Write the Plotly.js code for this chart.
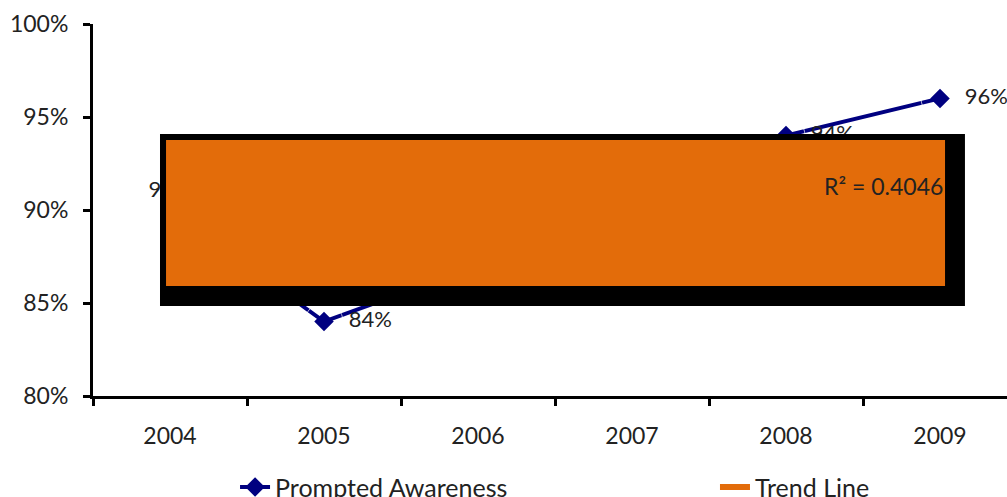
<!DOCTYPE html>
<html>
<head>
<meta charset="utf-8">
<script src="https://cdn.plot.ly/plotly-3.0.1.min.js"></script>
<style>html,body{margin:0;padding:0;background:#fff;}#chart{width:1007px;height:497px;}</style>
</head>
<body>
<div id="chart"></div>
<script>
const years = ['2004', '2005', '2006', '2007', '2008', '2009'];
const awareness = [0.90, 0.84, 0.87, 0.86, 0.94, 0.96];
const labelPositions = ['top center', 'middle right', 'middle right', 'middle right', 'middle right', 'middle right'];
const rSquaredText = 'R² = 0.4046';

// linear trend fitted to the awareness series
const n = awareness.length;
const xs = awareness.map((_, i) => i);
const mx = xs.reduce((a, b) => a + b, 0) / n;
const my = awareness.reduce((a, b) => a + b, 0) / n;
let sxy = 0, sxx = 0;
xs.forEach((x, i) => { sxy += (x - mx) * (awareness[i] - my); sxx += (x - mx) * (x - mx); });
const slope = sxy / sxx;
const trend = xs.map(x => my + slope * (x - mx));

const font = 'Lato, "Open Sans", sans-serif';
const navy = '#000080';
const orange = '#E36C0A';

const traces = [
  {
    x: years, y: trend, name: 'Trend Line', type: 'scatter', mode: 'lines',
    line: {color: orange, width: 6}, legend: 'legend2'
  },
  {
    x: years, y: awareness, name: 'Prompted Awareness', type: 'scatter', mode: 'lines+markers',
    line: {color: navy, width: 4},
    marker: {symbol: 'diamond', size: 15, color: navy},
    legend: 'legend'
  },
  {
    // value labels, offset from the points by an invisible marker
    x: years, y: awareness, type: 'scatter', mode: 'markers+text', showlegend: false,
    marker: {size: [10, 38, 38, 38, 38, 38], color: 'rgba(0,0,0,0)'},
    texttemplate: '%{y:.0%}', textposition: labelPositions,
    textfont: {family: font, size: 22, color: '#222'},
    cliponaxis: false
  }
];

const layout = {
  width: 1007, height: 497,
  margin: {l: 93, r: 0, t: 24, b: 101, autoexpand: false},
  paper_bgcolor: '#fff', plot_bgcolor: '#fff',
  font: {family: font, color: '#222', size: 22},
  showlegend: true,
  legend: {
    orientation: 'h', x: 0.1554, xanchor: 'left', y: -0.245, yanchor: 'middle',
    font: {family: font, size: 25, color: '#222'}, bgcolor: 'rgba(0,0,0,0)'
  },
  legend2: {
    orientation: 'h', x: 0.6805, xanchor: 'left', y: -0.245, yanchor: 'middle',
    font: {family: font, size: 25, color: '#222'}, bgcolor: 'rgba(0,0,0,0)'
  },
  xaxis: {
    type: 'category', range: [-0.5, 5.435], fixedrange: true,
    showline: true, linecolor: '#000', linewidth: 3,
    ticks: 'outside', tickson: 'boundaries', ticklen: 7, tickwidth: 3, tickcolor: '#000',
    showgrid: false, zeroline: false,
    tickfont: {family: font, size: 23, color: '#222'},
    ticklabelstandoff: 17
  },
  yaxis: {
    range: [0.80, 1.00], dtick: 0.05, tickformat: '.0%', fixedrange: true,
    showline: true, linecolor: '#000', linewidth: 3,
    ticks: 'outside', ticklen: 7, tickwidth: 3, tickcolor: '#000',
    showgrid: false, zeroline: false,
    tickfont: {family: font, size: 23, color: '#222'},
    ticklabelstandoff: 10
  },
  shapes: [
    {type: 'rect', xref: 'paper', yref: 'paper', x0: 0.0733, x1: 0.9540, y0: 0.2419, y1: 0.7043,
     fillcolor: '#000', line: {width: 0}, layer: 'above'},
    {type: 'rect', xref: 'paper', yref: 'paper', x0: 0.0799, x1: 0.9322, y0: 0.2957, y1: 0.6882,
     fillcolor: orange, line: {width: 0}, layer: 'above'}
  ],
  annotations: [
    {text: rSquaredText, xref: 'paper', yref: 'paper', x: 0.9322, y: 0.5645, xanchor: 'right', yanchor: 'middle',
     showarrow: false, font: {family: font, size: 23, color: '#222'}}
  ]
};

Plotly.newPlot('chart', traces, layout, {displayModeBar: false, staticPlot: true});
</script>
</body>
</html>
